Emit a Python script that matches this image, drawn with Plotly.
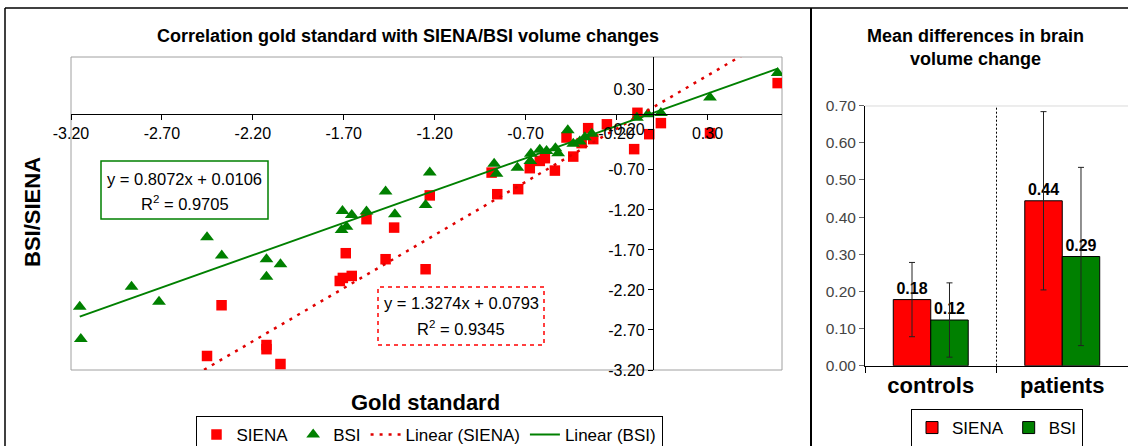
import plotly.graph_objects as go

W, H = 1128, 446

# ---------------- data: scatter (gold standard vs SIENA / BSI) ----------------
bsi_x = [-3.152, -3.146, -2.867, -2.716, -2.452, -2.371, -2.125, -2.125, -2.048,
         -1.707, -1.656, -1.712, -1.685, -1.575, -1.470, -1.419, -1.227, -1.250,
         -0.873, -0.860, -0.745, -0.671, -0.674, -0.622, -0.585, -0.536, -0.521,
         -0.468, -0.438, -0.402, -0.374, -0.336, -0.088, -0.028, 0.044, 0.314, 0.686]
bsi_y = [-2.409, -2.813, -2.159, -2.346, -1.541, -1.771, -1.816, -2.034, -1.879,
         -1.213, -1.263, -1.450, -1.409, -1.221, -0.971, -1.254, -0.734, -1.138,
         -0.625, -0.750, -0.675, -0.500, -0.588, -0.450, -0.463, -0.431, -0.491,
         -0.206, -0.375, -0.346, -0.294, -0.250, -0.050, -0.006, 0.009, 0.204, 0.509]

siena_x = [-2.452, -2.372, -2.125, -2.125, -2.048, -1.689, -1.722, -1.705, -1.656,
           -1.575, -1.423, -1.470, -1.250, -1.227, -0.887, -0.856, -0.741, -0.677,
           -0.622, -0.594, -0.539, -0.475, -0.438, -0.392, -0.356, -0.328, -0.253,
           -0.103, -0.085, -0.020, 0.044, 0.314, 0.686]
siena_y = [-3.025, -2.391, -2.888, -2.940, -3.125, -1.741, -2.088, -2.050, -2.025,
           -1.316, -1.421, -1.816, -1.941, -1.019, -0.734, -1.004, -0.941, -0.679,
           -0.588, -0.554, -0.709, -0.296, -0.534, -0.366, -0.179, -0.316, -0.131,
           -0.441, 0.013, -0.254, -0.116, -0.241, 0.384]

siena_slope, siena_intercept, siena_r2 = 1.3274, 0.0793, 0.9345
bsi_slope, bsi_intercept, bsi_r2 = 0.8072, 0.0106, 0.9705

axis_min, axis_max = -3.2, 0.71
tick_vals = [-3.2, -2.7, -2.2, -1.7, -1.2, -0.7, -0.2, 0.3]
tick_labels = ["-3.20", "-2.70", "-2.20", "-1.70", "-1.20", "-0.70", "-0.20", "0.30"]

# ---------------- data: bars (mean differences) ----------------
groups = ["controls", "patients"]
siena_mean = [0.178, 0.444]
siena_sd = [0.10, 0.24]
bsi_mean = [0.123, 0.294]
bsi_sd = [0.10, 0.24]
bar_tick_vals = [0.0, 0.1, 0.2, 0.3, 0.4, 0.5, 0.6, 0.7]
bar_tick_labels = ["0.00", "0.10", "0.20", "0.30", "0.40", "0.50", "0.60", "0.70"]

RED = "#FF0000"
GREEN = "#008000"
FONT = "Arial, Liberation Sans, sans-serif"


def fx(px):
    return px / W


def fy(py):
    return 1 - py / H


# domains
xdom = [fx(71), fx(782)]
ydom = [fy(370), fy(57)]
x_pos = xdom[0] + (0 - axis_min) / (axis_max - axis_min) * (xdom[1] - xdom[0])
y_pos = ydom[0] + (0 - axis_min) / (axis_max - axis_min) * (ydom[1] - ydom[0])

fig = go.Figure()

fig.add_trace(go.Scatter(
    x=siena_x, y=siena_y, mode="markers", name="SIENA",
    marker=dict(symbol="square", size=10.5, color=RED),
    xaxis="x", yaxis="y", legend="legend"))
fig.add_trace(go.Scatter(
    x=bsi_x, y=bsi_y, mode="markers", name="BSI",
    marker=dict(symbol="triangle-up", size=12, color=GREEN),
    xaxis="x", yaxis="y", legend="legend"))

all_x = bsi_x + siena_x
fit_x = [min(all_x), max(all_x)]
fig.add_trace(go.Scatter(
    x=fit_x, y=[siena_slope * v + siena_intercept for v in fit_x],
    mode="lines", name="Linear (SIENA)",
    line=dict(color="#E00000", width=2.5, dash="3px,6px"),
    xaxis="x", yaxis="y", legend="legend"))
fig.add_trace(go.Scatter(
    x=fit_x, y=[bsi_slope * v + bsi_intercept for v in fit_x],
    mode="lines", name="Linear (BSI)",
    line=dict(color=GREEN, width=2),
    xaxis="x", yaxis="y", legend="legend"))

# bars
fig.add_trace(go.Bar(
    x=groups, y=siena_mean, name="SIENA",
    marker=dict(color=RED, line=dict(color="black", width=1)),
    error_y=dict(type="data", array=siena_sd, color="#222", thickness=1, width=3),
    texttemplate="%{y:.2f}", textposition="outside",
    textfont=dict(size=16, color="black", family=FONT, weight="bold"),
    cliponaxis=False, xaxis="x2", yaxis="y2", legend="legend2"))
fig.add_trace(go.Bar(
    x=groups, y=bsi_mean, name="BSI",
    marker=dict(color=GREEN, line=dict(color="black", width=1)),
    error_y=dict(type="data", array=bsi_sd, color="#222", thickness=1, width=3),
    texttemplate="%{y:.2f}", textposition="outside",
    textfont=dict(size=16, color="black", family=FONT, weight="bold"),
    cliponaxis=False, xaxis="x2", yaxis="y2", legend="legend2"))

shapes = [
    # plot area border (scatter)
    dict(type="rect", xref="x domain", yref="y domain", x0=0, x1=1, y0=0, y1=1,
         line=dict(color="#A0A0A0", width=1), layer="below"),
    # equation boxes
    dict(type="rect", xref="paper", yref="paper", x0=fx(101), x1=fx(268),
         y0=fy(219), y1=fy(161), line=dict(color=GREEN, width=1.5),
         fillcolor="white"),
    dict(type="rect", xref="paper", yref="paper", x0=fx(378), x1=fx(544),
         y0=fy(345), y1=fy(287), line=dict(color=RED, width=1.5, dash="4px,4px"),
         fillcolor="white"),
    # bar plot top border
    dict(type="line", xref="x2 domain", yref="y2", x0=0, x1=1, y0=0.7, y1=0.7,
         line=dict(color="#A0A0A0", width=1)),
    # category separator
    dict(type="line", xref="x2", yref="y2 domain", x0=0.5, x1=0.5, y0=0, y1=1,
         line=dict(color="black", width=1, dash="2px,2px")),
    # outer frames
    dict(type="line", xref="paper", yref="paper", x0=fx(5), x1=1, y0=fy(8), y1=fy(8),
         line=dict(color="black", width=1.5)),
    dict(type="line", xref="paper", yref="paper", x0=fx(5), x1=fx(5), y0=0, y1=fy(8),
         line=dict(color="black", width=1.5)),
    dict(type="line", xref="paper", yref="paper", x0=fx(811), x1=fx(811), y0=0, y1=fy(8),
         line=dict(color="black", width=2)),
]

annotations = [
    dict(text="<b>Correlation gold standard with SIENA/BSI volume changes</b>",
         x=fx(408), y=fy(36), font=dict(size=18)),
    dict(text="<b>BSI/SIENA</b>", x=fx(32), y=fy(212), textangle=-90,
         font=dict(size=22)),
    dict(text="<b>Gold standard</b>", x=fx(425), y=fy(402), font=dict(size=22)),
    dict(text=f"y = {bsi_slope:.4f}x + {bsi_intercept:.4f}", x=fx(184.5), y=fy(179),
         font=dict(size=16.5)),
    dict(text=f"R<sup>2</sup> = {bsi_r2:.4f}", x=fx(184.5), y=fy(203),
         font=dict(size=16.5)),
    dict(text=f"y = {siena_slope:.4f}x + {siena_intercept:.4f}", x=fx(461), y=fy(303),
         font=dict(size=16.5)),
    dict(text=f"R<sup>2</sup> = {siena_r2:.4f}", x=fx(461), y=fy(328),
         font=dict(size=16.5)),
    dict(text="<b>Mean differences in brain</b>", x=fx(975), y=fy(36),
         font=dict(size=18)),
    dict(text="<b>volume change</b>", x=fx(975), y=fy(59), font=dict(size=18)),
]
for a in annotations:
    a.update(xref="paper", yref="paper", showarrow=False,
             xanchor="center", yanchor="middle")
    a["font"].update(family=FONT, color="black")

fig.update_layout(
    width=W, height=H, margin=dict(l=0, r=0, t=0, b=0, autoexpand=False),
    paper_bgcolor="white", plot_bgcolor="white",
    font=dict(family=FONT, color="black"),
    barmode="group", bargap=0.43, bargroupgap=0,
    shapes=shapes, annotations=annotations,
    xaxis=dict(domain=xdom, range=[axis_min, axis_max], anchor="free", position=y_pos,
               showline=True, linecolor="black", linewidth=1, ticks="outside",
               ticklen=5, tickcolor="black", tickvals=tick_vals, ticktext=tick_labels,
               tickfont=dict(size=16, family=FONT, color="black"),
               showgrid=False, zeroline=False, automargin=False),
    yaxis=dict(domain=ydom, range=[axis_min, axis_max], anchor="free", position=x_pos,
               showline=True, linecolor="black", linewidth=1, ticks="outside",
               ticklen=5, tickcolor="black", tickvals=tick_vals, ticktext=tick_labels,
               tickfont=dict(size=16, family=FONT, color="black"),
               showgrid=False, zeroline=False, automargin=False),
    xaxis2=dict(domain=[fx(865), 1.0], anchor="y2", type="category",
                showline=True, linecolor="black", linewidth=1, ticks="outside",
                tickson="boundaries", ticklen=6, tickcolor="black",
                tickfont=dict(size=22, family=FONT, color="black", weight="bold"),
                showgrid=False, zeroline=False, automargin=False),
    yaxis2=dict(domain=[fy(365.7), fy(105.7)], anchor="x2", range=[0, 0.7],
                showline=True, linecolor="black", linewidth=1, ticks="outside",
                ticklen=5, tickcolor="#666", tickvals=bar_tick_vals,
                ticktext=bar_tick_labels,
                tickfont=dict(size=15.5, family=FONT, color="#444"),
                showgrid=False, zeroline=False, automargin=False),
    legend=dict(x=fx(429), y=fy(416), xanchor="center", yanchor="top",
                orientation="h", bordercolor="black", borderwidth=1, bgcolor="white",
                font=dict(size=17, family=FONT, color="black"), itemwidth=30,
                tracegroupgap=0),
    legend2=dict(x=fx(997), y=fy(409), xanchor="center", yanchor="top",
                 orientation="h", bordercolor="black", borderwidth=1, bgcolor="white",
                 font=dict(size=17, family=FONT, color="black"), itemwidth=30),
)

fig.write_html("out.html", config={"displayModeBar": False},
               post_script="document.body.style.margin='0px';")
